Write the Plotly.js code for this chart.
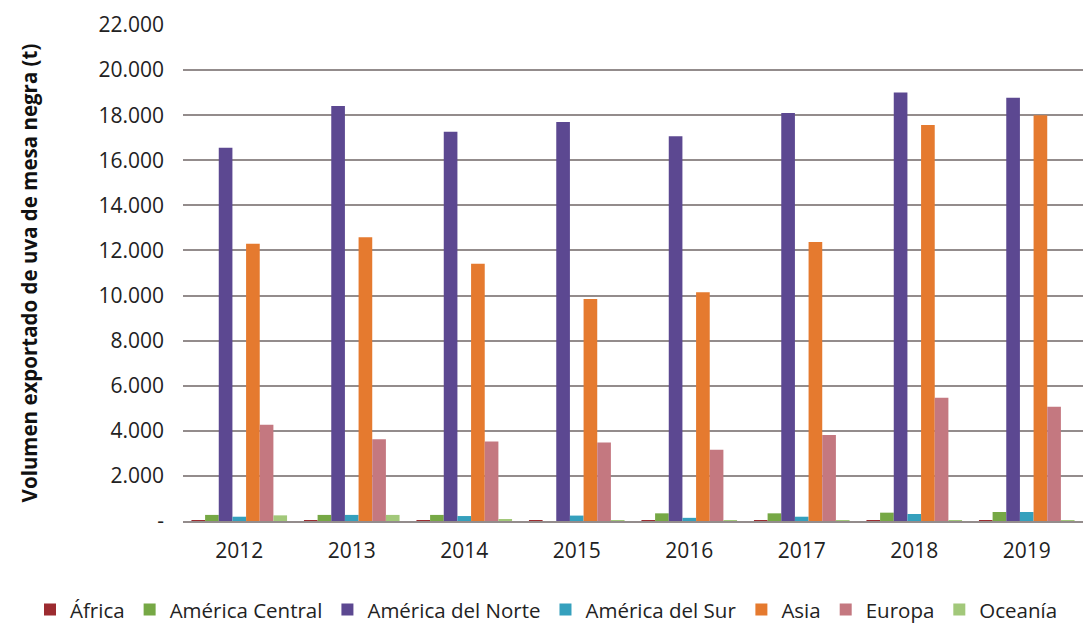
<!DOCTYPE html>
<html>
<head>
<meta charset="utf-8">
<script src="https://cdn.plot.ly/plotly-3.0.1.min.js"></script>
<style>
  body { margin: 0; background: #fff; }
  #chart { width: 1092px; height: 625px; }
</style>
</head>
<body>
<div id="chart"></div>
<script>
// years on the x axis
const years = ['2012', '2013', '2014', '2015', '2016', '2017', '2018', '2019'];

// exported volume (t) per region
const africa = [5, 5, 5, 5, 5, 5, 5, 5];
const centralAmerica = [270, 270, 270, 0, 340, 340, 370, 400];
const northAmerica = [16550, 18410, 17260, 17700, 17070, 18100, 19010, 18770];
const southAmerica = [190, 270, 220, 240, 140, 190, 310, 400];
const asia = [12300, 12590, 11410, 9850, 10150, 12370, 17560, 18000];
const europe = [4270, 3630, 3525, 3480, 3155, 3820, 5470, 5070];
const oceania = [250, 270, 70, 30, 10, 10, 10, 10];

// y axis ticks
const yTicks = [0, 2000, 4000, 6000, 8000, 10000, 12000, 14000, 16000, 18000, 20000, 22000];
const yTickText = ['-', '2.000', '4.000', '6.000', '8.000', '10.000', '12.000', '14.000', '16.000', '18.000', '20.000', '22.000'];

const FONT = 'Open Sans, sans-serif';

function barTrace(name, values, color) {
    return {
        x: years,
        y: values,
        type: 'bar',
        name: name,
        marker: {color: color, line: {width: 0}}
    };
}

var data = [
    barTrace('África', africa, '#9c2b30'),
    barTrace('América Central', centralAmerica, '#76a845'),
    barTrace('América del Norte', northAmerica, '#5c4891'),
    barTrace('América del Sur', southAmerica, '#35a0bd'),
    barTrace('Asia', asia, '#e57a2f'),
    barTrace('Europa', europe, '#c47880'),
    barTrace('Oceanía', oceania, '#a2c87a')
];

var layout = {
    width: 1092,
    height: 625,
    margin: {l: 183, r: 9, t: 25, b: 104, autoexpand: false},
    paper_bgcolor: '#ffffff',
    plot_bgcolor: '#ffffff',
    font: {family: FONT, size: 21, color: '#222222'},
    barmode: 'group',
    bargap: 0.15,
    bargroupgap: 0,
    showlegend: true,
    legend: {
        orientation: 'h',
        x: -0.17,
        xanchor: 'left',
        y: -0.179,
        yanchor: 'middle',
        font: {family: FONT, size: 20.5, color: '#222222'},
        itemwidth: 30,
        tracegroupgap: 0
    },
    xaxis: {
        type: 'category',
        showgrid: false,
        showline: true,
        linecolor: '#938c8c',
        linewidth: 1.5,
        ticks: '',
        ticklen: 0,
        ticklabelstandoff: 10,
        tickfont: {family: FONT, size: 21, color: '#222222'}
    },
    yaxis: {
        range: [0, 22000],
        tickvals: yTicks,
        ticktext: yTickText,
        showgrid: true,
        gridcolor: '#938c8c',
        gridwidth: 1.6,
        zeroline: false,
        showline: false,
        ticks: '',
        ticklabelstandoff: 18,
        tickfont: {family: FONT, size: 21, color: '#222222'},
        title: {
            text: '<b>Volumen exportado de uva de mesa negra (t)</b>',
            font: {family: FONT, size: 20.5, color: '#111111'},
            standoff: 55
        }
    }
};

Plotly.newPlot('chart', data, layout, {displayModeBar: false});
</script>
</body>
</html>
